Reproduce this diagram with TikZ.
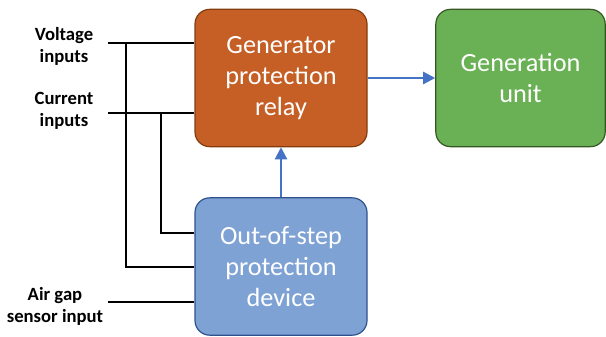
\documentclass[tikz,border=0pt]{standalone}
\usepackage{fontspec}
\setmainfont{Carlito}
\usetikzlibrary{arrows.meta}

\definecolor{relayfill}{HTML}{C55F26}
\definecolor{relaydraw}{HTML}{843C0C}
\definecolor{unitfill}{HTML}{6AB155}
\definecolor{unitdraw}{HTML}{375623}
\definecolor{ospfill}{HTML}{7FA2D4}
\definecolor{ospdraw}{HTML}{2F528F}
\definecolor{flowblue}{HTML}{4472C4}

\tikzset{
  block/.style={rounded corners=11pt, line width=0.9pt, minimum width=129pt, minimum height=103pt,
    align=center, text=white, font=\fontsize{19.7}{23.5}\selectfont},
  inlabel/.style={align=center, font=\bfseries\fontsize{14}{16.5}\selectfont, inner sep=0.75pt},
  wire/.style={draw=black, line width=1.1pt},
  flow/.style={draw=flowblue, line width=1.6pt, -{Triangle[length=9pt,width=9pt]}}
}

\begin{document}
\begin{tikzpicture}[x=0.75pt,y=0.75pt,yscale=-1,xscale=1]
\useasboundingbox (0,0) rectangle (606,336);

%Blocks
\node[block, fill=relayfill, draw=relaydraw] (relay) at (281,78) {Generator\\protection\\relay};
\node[block, fill=unitfill, draw=unitdraw, minimum width=127pt] (unit) at (520.5,78) {Generation\\unit};
\node[block, fill=ospfill, draw=ospdraw] (osp) at (281,266.5) {Out-of-step\\protection\\device};

% Text Node
\node[inlabel] (volt) at (64,46) {Voltage\\inputs};
% Text Node
\node[inlabel] (curr) at (64,111) {Current\\inputs};
% Text Node
\node[inlabel] (gap) at (55,306) {Air gap\\sensor input};

%Wire ends
\coordinate (vin) at (108,43);
\coordinate (cin) at (108,113);
\coordinate (gin) at (108,302);
\coordinate (vtap) at (126,43);
\coordinate (ctap) at (161,113);

%Input wires
\draw[wire] (vin) -- (relay.west |- vin);
\draw[wire] (cin) -- (relay.west |- cin);
\draw[wire] (gin) -- (osp.west |- gin);
\draw[wire] (vtap) -- (126,267) -- (osp.west |- 0,267);
\draw[wire] (ctap) -- (161,233) -- (osp.west |- 0,233);

%Flow arrows
\draw[flow] (relay.east) -- (unit.west);
\draw[flow] (osp.north) -- (relay.south);
\end{tikzpicture}
\end{document}
